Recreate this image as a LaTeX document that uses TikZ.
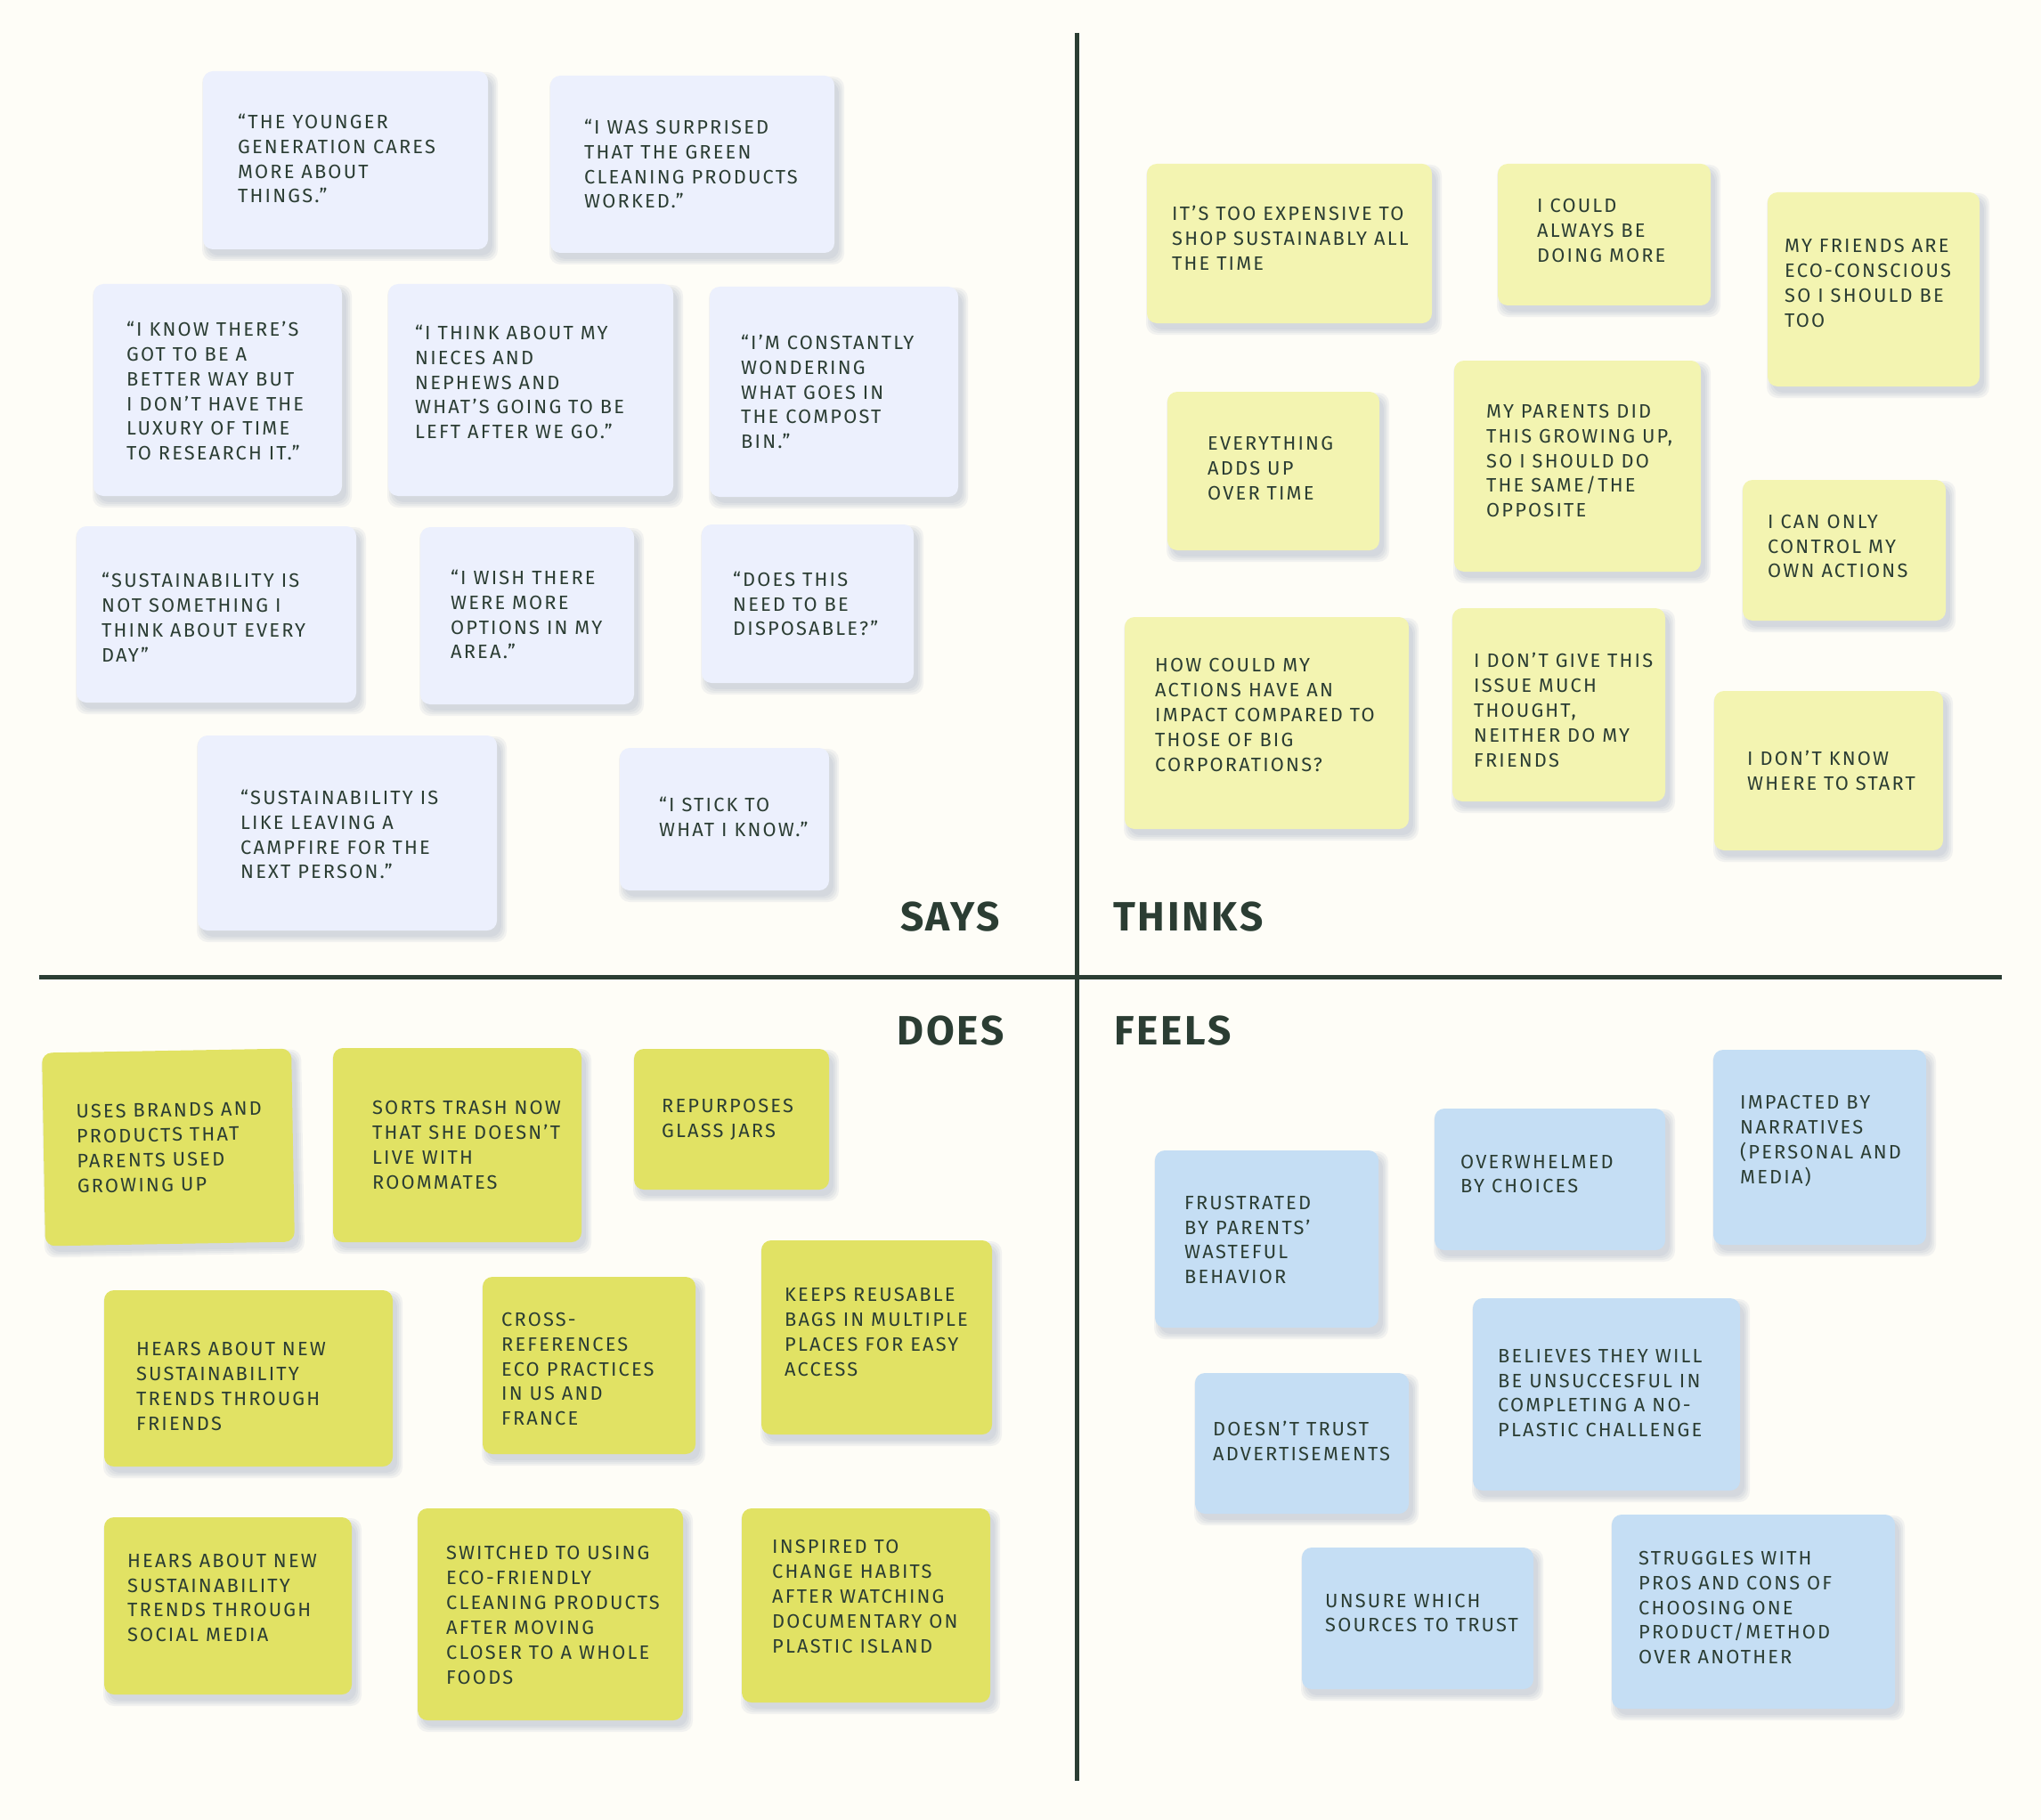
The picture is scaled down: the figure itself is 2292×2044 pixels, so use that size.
\documentclass[tikz,border=0pt]{standalone}
\usepackage{fontspec}
\setmainfont{Fira Sans}
\newfontfamily\cardfont[LetterSpace=10]{Fira Sans}
\newfontfamily\headfont[LetterSpace=6]{Fira Sans}
\definecolor{bg}{HTML}{FEFDF7}
\definecolor{ink}{HTML}{2B3D33}
\definecolor{sayc}{HTML}{ECF0FD}
\definecolor{thinkc}{HTML}{F3F4B1}
\definecolor{doc}{HTML}{E1E264}
\definecolor{feelc}{HTML}{C5DEF4}
\definecolor{shadc}{HTML}{8E9AB5}
\tikzset{
  card/.style={rectangle, rounded corners=11pt, inner sep=0pt, draw=none},
  cardtext/.style={align=left, inner sep=0pt, text=ink, font=\cardfont\fontsize{21.8}{27.9}\selectfont},
  heading/.style={inner sep=0pt, text=ink, font=\headfont\bfseries\fontsize{46}{50}\selectfont},
  divider/.style={draw=ink, line width=5pt},
}
% #1 rotation, #2 name, #3 fill, #4 x1, #5 y1, #6 x2, #7 y2, #8 text west point, #9 text
\newcommand\stick[9][0]{%
  \begin{scope}[rotate around={#1:({(#4+#6)/2},{(#5+#7)/2})}, transform shape]
  \foreach \e in {0,2,4,6}{%
    \fill[shadc, opacity=0.10, rounded corners=12pt] ({#4+5-\e},{#5+7-\e}) rectangle ({#6+5+\e},{#7+7+\e});
  }
  \node[card, fill=#3, minimum width={(#6-#4)*1pt}, minimum height={(#7-#5)*1pt}] (#2) at ({(#4+#6)/2},{(#5+#7)/2}) {};
  \node[cardtext, anchor=west] (#2t) at (#8) {#9};
  \end{scope}
}
\begin{document}
\begin{tikzpicture}[x=1pt,y=-1pt]
\fill[bg] (0,0) rectangle (2292,2044);
\useasboundingbox (0,0) rectangle (2292,2044);
% dividers
\coordinate (vtop) at (1209,37);
\coordinate (vbot) at (1209,2000);
\coordinate (hl) at (44,1097);
\coordinate (hr) at (2248,1097);
\draw[divider] (vtop) -- (vbot);
\draw[divider] (hl) -- (hr);
% headings
\node[heading, anchor=base east] (says) at (1123,1045) {SAYS};
\node[heading, anchor=base west] (thinks) at (1250,1045) {THINKS};
\node[heading, anchor=base east] (does) at (1128,1173) {DOES};
\node[heading, anchor=base west] (feels) at (1251,1173) {FEELS};
% SAYS
\stick{s1}{sayc}{228}{80}{548}{280}{267,178}{“THE YOUNGER\\GENERATION CARES\\MORE ABOUT\\THINGS.”}
\stick{s2}{sayc}{618}{85}{937}{284}{656,184}{“I WAS SURPRISED\\THAT THE GREEN\\CLEANING PRODUCTS\\WORKED.”}
\stick{s3}{sayc}{105}{319}{384}{557}{142,439}{“I KNOW THERE’S\\GOT TO BE A\\BETTER WAY BUT\\I DON’T HAVE THE\\LUXURY OF TIME\\TO RESEARCH IT.”}
\stick{s4}{sayc}{436}{319}{756}{557}{466,429}{“I THINK ABOUT MY\\NIECES AND\\NEPHEWS AND\\WHAT’S GOING TO BE\\LEFT AFTER WE GO.”}
\stick{s5}{sayc}{797}{322}{1076}{558}{832,440}{“I’M CONSTANTLY\\WONDERING\\WHAT GOES IN\\THE COMPOST\\BIN.”}
\stick{s6}{sayc}{86}{591}{400}{789}{114,693}{“SUSTAINABILITY IS\\NOT SOMETHING I\\THINK ABOUT EVERY\\DAY”}
\stick{s7}{sayc}{472}{592}{712}{791}{506,690}{“I WISH THERE\\WERE MORE\\OPTIONS IN MY\\AREA.”}
\stick{s8}{sayc}{788}{589}{1026}{767}{823,678}{“DOES THIS\\NEED TO BE\\DISPOSABLE?”}
\stick{s9}{sayc}{222}{826}{558}{1045}{270,937}{“SUSTAINABILITY IS\\LIKE LEAVING A\\CAMPFIRE FOR THE\\NEXT PERSON.”}
\stick{s10}{sayc}{696}{840}{931}{1000}{740,917}{“I STICK TO\\WHAT I KNOW.”}
% THINKS
\stick{t1}{thinkc}{1288}{184}{1608}{363}{1316,267.5}{IT’S TOO EXPENSIVE TO\\SHOP SUSTAINABLY ALL\\THE TIME}
\stick{t2}{thinkc}{1682}{184}{1921}{343}{1726,259}{I COULD\\ALWAYS BE\\DOING MORE}
\stick{t3}{thinkc}{1985}{216}{2223}{434}{2004,318}{MY FRIENDS ARE\\ECO-CONSCIOUS\\SO I SHOULD BE\\TOO}
\stick{t4}{thinkc}{1311}{440}{1549}{618}{1356,526}{EVERYTHING\\ADDS UP\\OVER TIME}
\stick{t5}{thinkc}{1633}{405}{1910}{642}{1669,517.5}{MY PARENTS DID\\THIS GROWING UP,\\SO I SHOULD DO\\THE SAME/THE\\OPPOSITE}
\stick{t6}{thinkc}{1957}{539}{2185}{697}{1985,613.5}{I CAN ONLY\\CONTROL MY\\OWN ACTIONS}
\stick{t7}{thinkc}{1263}{693}{1582}{931}{1297,803}{HOW COULD MY\\ACTIONS HAVE AN\\IMPACT COMPARED TO\\THOSE OF BIG\\CORPORATIONS?}
\stick{t8}{thinkc}{1631}{683}{1870}{900}{1655,797.5}{I DON’T GIVE THIS\\ISSUE MUCH\\THOUGHT,\\NEITHER DO MY\\FRIENDS}
\stick{t9}{thinkc}{1925}{776}{2182}{955}{1962,865.5}{I DON’T KNOW\\WHERE TO START}
% DOES
\stick[1]{d1}{doc}{49}{1180}{329}{1397}{86,1288.5}{USES BRANDS AND\\PRODUCTS THAT\\PARENTS USED\\GROWING UP}
\stick{d2}{doc}{374}{1177}{653}{1395}{418,1286}{SORTS TRASH NOW\\THAT SHE DOESN’T\\LIVE WITH\\ROOMMATES}
\stick{d3}{doc}{712}{1178}{931}{1336}{743,1257}{REPURPOSES\\GLASS JARS}
\stick{d4}{doc}{117}{1449}{441}{1647}{153,1557}{HEARS ABOUT NEW\\SUSTAINABILITY\\TRENDS THROUGH\\FRIENDS}
\stick{d5}{doc}{542}{1434}{781}{1633}{563,1537.5}{CROSS-\\REFERENCES\\ECO PRACTICES\\IN US AND\\FRANCE}
\stick{d6}{doc}{855}{1393}{1114}{1611}{881,1496}{KEEPS REUSABLE\\BAGS IN MULTIPLE\\PLACES FOR EASY\\ACCESS}
\stick{d7}{doc}{117}{1704}{395}{1903}{143,1794.5}{HEARS ABOUT NEW\\SUSTAINABILITY\\TRENDS THROUGH\\SOCIAL MEDIA}
\stick{d8}{doc}{469}{1694}{767}{1932}{501,1814}{SWITCHED TO USING\\ECO-FRIENDLY\\CLEANING PRODUCTS\\AFTER MOVING\\CLOSER TO A WHOLE\\FOODS}
\stick{d9}{doc}{833}{1694}{1112}{1912}{867,1793}{INSPIRED TO\\CHANGE HABITS\\AFTER WATCHING\\DOCUMENTARY ON\\PLASTIC ISLAND}
% FEELS
\stick{f1}{feelc}{1297}{1292}{1548}{1491}{1330,1392.5}{FRUSTRATED\\BY PARENTS’\\WASTEFUL\\BEHAVIOR}
\stick{f2}{feelc}{1611}{1245}{1870}{1404}{1640,1318.5}{OVERWHELMED\\BY CHOICES}
\stick{f3}{feelc}{1924}{1179}{2163}{1398}{1954,1281.5}{IMPACTED BY\\NARRATIVES\\(PERSONAL AND\\MEDIA)}
\stick{f4}{feelc}{1342}{1542}{1582}{1700}{1362,1618}{DOESN’T TRUST\\ADVERTISEMENTS}
\stick{f5}{feelc}{1654}{1458}{1954}{1674}{1682,1564.5}{BELIEVES THEY WILL\\BE UNSUCCESFUL IN\\COMPLETING A NO-\\PLASTIC CHALLENGE}
\stick{f6}{feelc}{1462}{1738}{1722}{1897}{1488,1811.5}{UNSURE WHICH\\SOURCES TO TRUST}
\stick{f7}{feelc}{1810}{1701}{2128}{1919}{1840,1805.5}{STRUGGLES WITH\\PROS AND CONS OF\\CHOOSING ONE\\PRODUCT/METHOD\\OVER ANOTHER}
\end{tikzpicture}
\end{document}
